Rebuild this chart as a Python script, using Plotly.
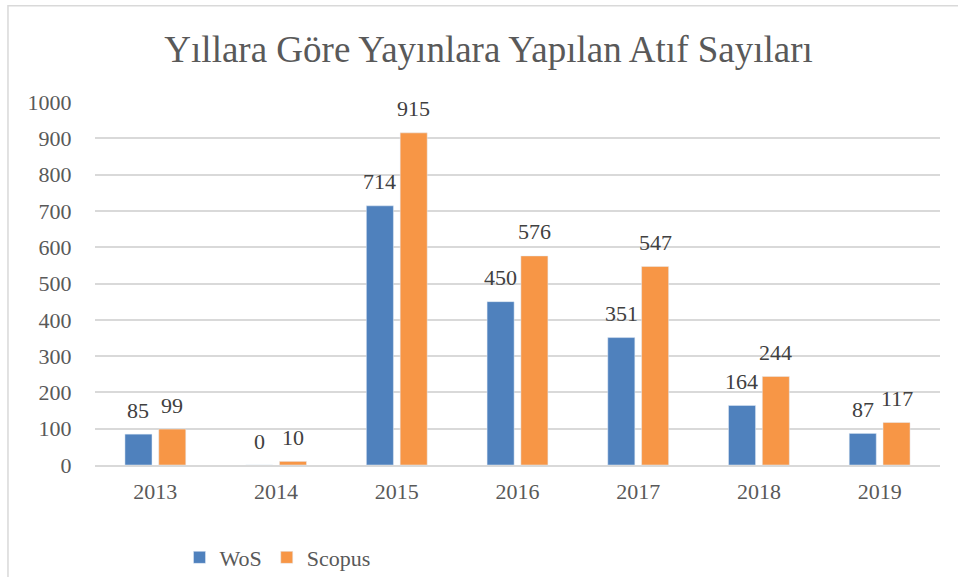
import plotly.graph_objects as go

years = ["2013", "2014", "2015", "2016", "2017", "2018", "2019"]
wos = [85, 0, 714, 450, 351, 164, 87]
scopus = [99, 10, 915, 576, 547, 244, 117]
title_text = "Yıllara Göre Yayınlara Yapılan Atıf Sayıları"

FONT = "Liberation Serif, Times New Roman, serif"
BLUE = "#4F81BD"
ORANGE = "#F79646"

fig = go.Figure()
fig.add_trace(go.Bar(name="WoS", x=years, y=wos, marker=dict(color=BLUE)))
fig.add_trace(go.Bar(name="Scopus", x=years, y=scopus, marker=dict(color=ORANGE)))

# value labels: category index on the category axis, shifted onto each bar of the pair
annotations = []
for i in range(len(years)):
    for val, shift in ((wos[i], -17), (scopus[i], 17)):
        annotations.append(dict(
            x=i, y=val, xref="x", yref="y", text=str(val), showarrow=False,
            xshift=shift, yshift=24, yanchor="middle",
            font=dict(family=FONT, size=22, color="#404040"),
        ))

fig.update_layout(
    width=958, height=577,
    margin=dict(l=95, r=18, t=102, b=112, autoexpand=False),
    paper_bgcolor="white", plot_bgcolor="white",
    barmode="group", bargap=0.44, bargroupgap=0.2,
    title=dict(text=title_text, x=0.51, xanchor="center", y=0.915, yanchor="middle",
               font=dict(family=FONT, size=37, color="#595959")),
    xaxis=dict(type="category", range=[-0.5, len(years) - 0.5], showgrid=False,
               showline=True, linecolor="#D9D9D9", linewidth=1.5,
               tickfont=dict(family=FONT, size=22, color="#595959"),
               ticks="outside", ticklen=6, tickcolor="rgba(0,0,0,0)"),
    yaxis=dict(range=[0, 1000], dtick=100, showgrid=True, gridcolor="#D9D9D9",
               gridwidth=1.5, zeroline=False, showline=False,
               tickfont=dict(family=FONT, size=22, color="#595959"),
               ticks="outside", ticklen=18, tickcolor="rgba(0,0,0,0)"),
    legend=dict(orientation="h", x=0.1, xanchor="left", y=-0.255, yanchor="middle",
                font=dict(family=FONT, size=22, color="#595959")),
    annotations=annotations,
    shapes=[dict(type="rect", xref="paper", yref="paper",
                 x0=-0.103, x1=1.2, y0=-0.5, y1=1.265,
                 line=dict(color="#D9D9D9", width=1.5), layer="below")],
    showlegend=True,
)

fig.write_html("out.html", config={"displayModeBar": False},
               post_script="document.body.style.margin='0';")
